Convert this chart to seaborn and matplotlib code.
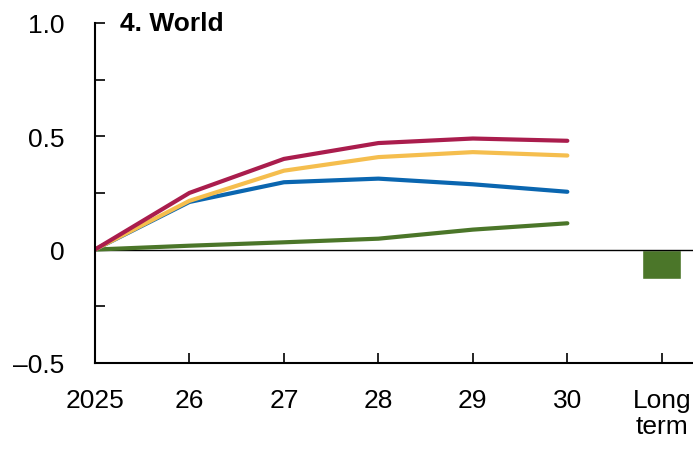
import pandas as pd
import seaborn as sns
import matplotlib.pyplot as plt
from matplotlib.ticker import FixedLocator

# Datos
years = [0, 1, 2, 3, 4, 5]
red_vals = [0.0, 0.25, 0.40, 0.47, 0.49, 0.48]
yellow_vals = [0.0, 0.215, 0.348, 0.408, 0.43, 0.415]
blue_vals = [0.0, 0.21, 0.297, 0.313, 0.288, 0.255]
green_vals = [0.0, 0.017, 0.032, 0.048, 0.088, 0.116]
long_term_pos = [6]
long_term_val = [-0.13]

x_labels = ["2025", "26", "27", "28", "29", "30", "Long\nterm"]
y_ticks = [-0.5, 0, 0.5, 1.0]
y_labels = ["\u20130.5", "0", "0.5", "1.0"]
series_names = ["Series 1", "Series 2", "Series 3", "Series 4"]
colors = ["#AA1D4D", "#F5BE4E", "#0A66B0", "#4B7629"]
palette = dict(zip(series_names, colors))

rows = []
for name, vals in zip(series_names, [red_vals, yellow_vals, blue_vals, green_vals]):
    for x, v in zip(years, vals):
        rows.append({"x": x, "value": v, "series": name})
df = pd.DataFrame(rows)

sns.set_style("white")
plt.rcParams["font.family"] = ["Liberation Sans Narrow", "Liberation Sans", "DejaVu Sans"]
plt.rcParams["text.color"] = "black"

fig = plt.figure(figsize=(6.93, 4.52), dpi=100)
ax = fig.add_axes([0.137, 0.195, 0.863, 0.752])

sns.lineplot(data=df, x="x", y="value", hue="series", palette=palette,
             hue_order=series_names[::-1], linewidth=3, legend=False, ax=ax)
sns.barplot(x=long_term_pos, y=long_term_val, native_scale=True, width=0.41,
            color=colors[3], saturation=1, ax=ax)

ax.axhline(0, color="black", lw=1, zorder=1)

ax.set_xlim(0, 6.33)
ax.set_ylim(-0.5, 1.0)
ax.set_xticks(range(7))
ax.set_xticklabels(x_labels, fontsize=19, linespacing=1.1)
ax.set_yticks(y_ticks)
ax.set_yticklabels(y_labels, fontsize=19)
ax.yaxis.set_minor_locator(FixedLocator([-0.25, 0.25, 0.75]))
ax.tick_params(axis="y", which="both", direction="in", length=7, width=1.2,
               left=True, pad=22, colors="black")
ax.tick_params(axis="x", direction="in", length=7, width=1.2, bottom=True,
               pad=18, colors="black")
for lab in ax.get_xticklabels():
    lab.set_verticalalignment("top")

for s in ["top", "right"]:
    ax.spines[s].set_visible(False)
for s in ["left", "bottom"]:
    ax.spines[s].set_color("black")
    ax.spines[s].set_linewidth(1.5)

ax.set_xlabel("")
ax.set_ylabel("")
ax.text(0.27, 1.0, "4. World", fontsize=19, fontweight="bold", color="black",
        va="center", ha="left")

fig.savefig("out.png", dpi=100)
